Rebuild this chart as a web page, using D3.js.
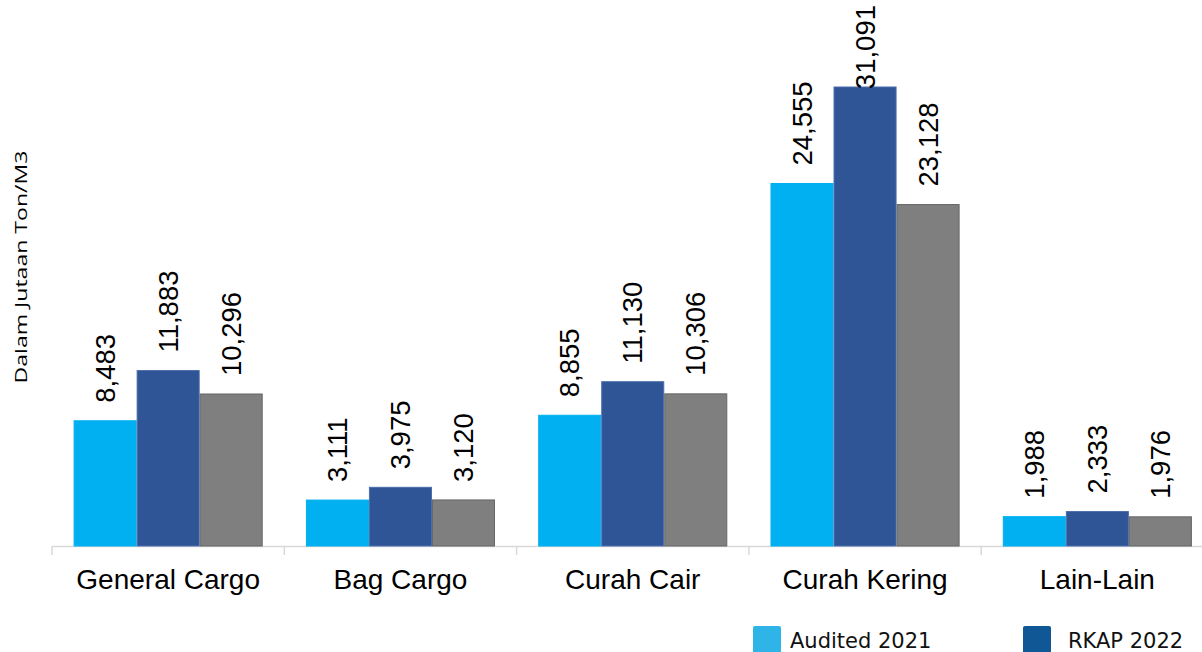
<!DOCTYPE html>
<html>
<head>
<meta charset="utf-8">
<script src="https://cdn.jsdelivr.net/npm/d3@7"></script>
<style>
  body { margin: 0; background: #fff; }
  svg { display: block; }
</style>
</head>
<body>
<div id="chart"></div>
<script>
var categories = ["General Cargo", "Bag Cargo", "Curah Cair", "Curah Kering", "Lain-Lain"];
var seriesNames = ["Audited 2021", "RKAP 2022", "Realisasi 2022"];
var audited2021 = [8483, 3111, 8855, 24555, 1988];
var rkap2022 = [11883, 3975, 11130, 31091, 2333];
var realisasi2022 = [10296, 3120, 10306, 23128, 1976];
// only the first two legend entries are visible in the picture
var legendNames = ["Audited 2021", "RKAP 2022"];

var barColors = ["#00b0f0", "#2f5597", "#7f7f7f"];
var barStrokes = ["#00b0f0", "#4a6dab", "#666666"];
var legendColors = ["#2eb4e7", "#0f5895"];

var width = 1202, height = 652;
var baseY = 546;

var svg = d3.select("#chart").append("svg")
    .attr("width", width)
    .attr("height", height);

var x = d3.scaleBand()
    .domain(categories)
    .range([52, 52 + 5 * 232.3])
    .paddingInner(0.186)
    .paddingOuter(0.093);

var x1 = d3.scaleBand()
    .domain(seriesNames)
    .range([0, x.bandwidth()]);

var y = d3.scaleLinear()
    .domain([0, 31091])
    .range([baseY, 87]);

// rows for the bars
var rows = [];
categories.forEach(function(c, i) {
    [audited2021, rkap2022, realisasi2022].forEach(function(s, j) {
        rows.push({cat: c, series: seriesNames[j], idx: j, value: s[i]});
    });
});

// x axis line + ticks at band boundaries
var axis = svg.append("g");
axis.append("line")
    .attr("x1", x.range()[0]).attr("x2", x.range()[1])
    .attr("y1", baseY + 0.5).attr("y2", baseY + 0.5)
    .attr("stroke", "#d9d9d9").attr("stroke-width", 1.5);
d3.range(categories.length + 1).forEach(function(i) {
    var tx = x.range()[0] + i * x.step();
    axis.append("line")
        .attr("x1", tx).attr("x2", tx)
        .attr("y1", baseY).attr("y2", baseY + 9)
        .attr("stroke", "#d9d9d9").attr("stroke-width", 1.5);
});

svg.selectAll(".bar")
    .data(rows)
    .enter().append("rect")
    .attr("class", "bar")
    .attr("x", function(d) { return x(d.cat) + x1(d.series) + 0.5; })
    .attr("y", function(d) { return y(d.value); })
    .attr("width", x1.bandwidth() - 1)
    .attr("height", function(d) { return baseY - y(d.value); })
    .attr("fill", function(d) { return barColors[d.idx]; })
    .attr("stroke", function(d) { return barStrokes[d.idx]; })
    .attr("stroke-width", 1);

// value labels, rotated
var fmt = d3.format(",");
svg.selectAll(".val")
    .data(rows)
    .enter().append("text")
    .attr("class", "val")
    .attr("font-family", "'Liberation Sans', Arial, sans-serif")
    .attr("font-size", 27.5)
    .attr("fill", "#000")
    .attr("text-anchor", "start")
    .attr("dominant-baseline", "central")
    .text(function(d) { return fmt(d.value); })
    .each(function(d) {
        var len = this.getComputedTextLength();
        var cx = x(d.cat) + x1(d.series) + x1.bandwidth() / 2;
        var bottom = y(d.value) - 18;
        if (bottom - len < 5) bottom = len + 5;  // keep inside the top edge
        d3.select(this).attr("transform", "translate(" + cx + "," + bottom + ") rotate(-90)");
    });

// category labels
svg.selectAll(".cat")
    .data(categories)
    .enter().append("text")
    .attr("class", "cat")
    .attr("x", function(d) { return x(d) + x.bandwidth() / 2; })
    .attr("y", 589)
    .attr("text-anchor", "middle")
    .attr("font-family", "'Liberation Sans', Arial, sans-serif")
    .attr("font-size", 28)
    .attr("fill", "#000")
    .text(function(d) { return d; });

// y axis title
svg.append("text")
    .attr("transform", "translate(27,267) rotate(-90)")
    .attr("text-anchor", "middle")
    .attr("font-family", "'Open Sans', sans-serif")
    .attr("font-size", 16)
    .attr("textLength", 233)
    .attr("lengthAdjust", "spacingAndGlyphs")
    .attr("fill", "#000")
    .text("Dalam Jutaan Ton/M3");

// legend
var legend = svg.selectAll(".legend")
    .data(legendNames)
    .enter().append("g")
    .attr("class", "legend")
    .attr("transform", function(d, i) { return "translate(" + (753 + i * 270) + ",626)"; });
legend.append("rect")
    .attr("width", 28).attr("height", 28)
    .attr("rx", 2)
    .attr("fill", function(d, i) { return legendColors[i]; });
legend.append("text")
    .attr("x", function(d, i) { return i == 0 ? 37 : 45; })
    .attr("y", 22)
    .attr("font-family", "'DejaVu Sans', Verdana, sans-serif")
    .attr("font-size", 21)
    .attr("fill", "#111")
    .text(function(d) { return d; });
</script>
</body>
</html>
